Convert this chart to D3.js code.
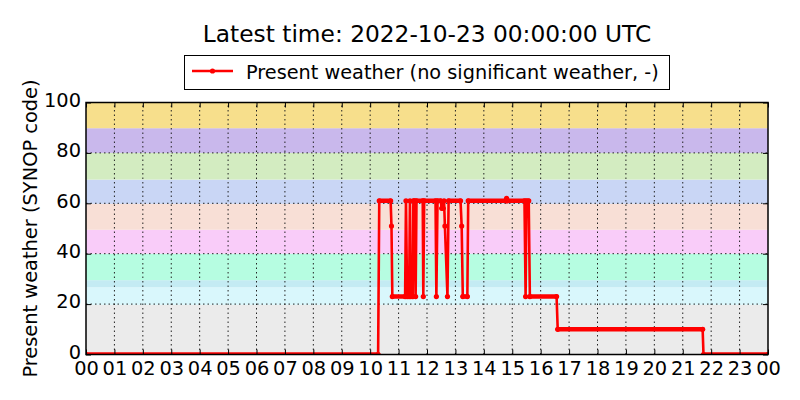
<!DOCTYPE html>
<html>
<head>
<meta charset="utf-8">
<script src="https://cdn.jsdelivr.net/npm/d3@7"></script>
<style>
  body { margin: 0; background: #fff; }
  text { font-family: "DejaVu Sans", sans-serif; fill: #000; }
</style>
</head>
<body>
<div id="chart"></div>
<script>
// observation times (hours after 00 UTC) and present weather code
const times = [0, 10.28, 10.32, 10.72, 10.75, 10.78, 11.23, 11.26, 11.30, 11.37, 11.40, 11.43, 11.50, 11.52,
  11.57, 11.60, 11.63, 11.85, 11.87, 11.90, 12.30, 12.33, 12.37, 12.48, 12.52, 12.57, 12.60, 12.63,
  12.72, 12.76, 13.18, 13.22, 13.26, 13.42, 13.45, 14.78, 14.80, 14.83, 15.43, 15.47, 15.50, 15.58,
  15.62, 16.56, 16.60, 21.70, 21.73, 24];
const codes = [0, 0, 61, 61, 51, 23, 23, 61, 23, 23, 61, 23, 23, 61,
  61, 23, 61, 61, 23, 61, 61, 23, 61, 61, 58, 58, 61, 51,
  23, 61, 61, 51, 23, 23, 61, 61, 62, 61, 61, 23, 61, 61,
  23, 23, 10, 10, 0, 0];

// background bands (SYNOP code groups)
const bandLow = [0, 19.7, 26.7, 29.5, 40, 49.5, 59.8, 69.4, 80, 89.8];
const bandHigh = [19.7, 26.7, 29.5, 40, 49.5, 59.8, 69.4, 80, 89.8, 100];
const bandColors = ['#ebebeb', '#d9f7fc', '#c4ebf3', '#b6fde1', '#f9ccf9', '#f8dfd6',
  '#c9d6f5', '#d3ecc1', '#c9b8ec', '#f7df8c'];

const xTicks = d3.range(0, 25);
const xTickLabels = xTicks.map(function (h) { return d3.format('02d')(h % 24); });
const yTicks = [0, 20, 40, 60, 80, 100];

const titleText = 'Latest time: 2022-10-23 00:00:00 UTC';
const legendText = 'Present weather (no significant weather, -)';
const yLabel = 'Present weather (SYNOP code)';

let width = 800, height = 400;
let margin = { left: 86, right: 32, top: 102.5, bottom: 45.5 };

let svg = d3.select('#chart').append('svg')
  .attr('width', width)
  .attr('height', height);

let x = d3.scaleLinear().domain([0, 24]).range([margin.left, width - margin.right]);
let y = d3.scaleLinear().domain([0, 100]).range([height - margin.bottom, margin.top]);

svg.append('defs').append('clipPath').attr('id', 'plot-clip')
  .append('rect')
  .attr('x', x(0)).attr('y', y(100))
  .attr('width', x(24) - x(0)).attr('height', y(0) - y(100));

svg.selectAll('.band')
  .data(bandColors)
  .enter().append('rect')
  .attr('class', 'band')
  .attr('x', x(0))
  .attr('width', x(24) - x(0))
  .attr('y', function (d, i) { return y(bandHigh[i]); })
  .attr('height', function (d, i) { return y(bandLow[i]) - y(bandHigh[i]); })
  .style('fill', function (d) { return d; });

// dotted grid
let grid = svg.append('g').attr('class', 'grid')
  .style('stroke', '#222').style('stroke-width', 1).style('stroke-dasharray', '1.5,3');
grid.selectAll('.vgrid').data(xTicks.slice(1, -1)).enter().append('line')
  .attr('x1', function (d) { return x(d); }).attr('x2', function (d) { return x(d); })
  .attr('y1', y(0)).attr('y2', y(100));
grid.selectAll('.hgrid').data(yTicks.slice(1, -1)).enter().append('line')
  .attr('y1', function (d) { return y(d); }).attr('y2', function (d) { return y(d); })
  .attr('x1', x(0)).attr('x2', x(24));

// series
let pts = times.map(function (t, i) { return [t, codes[i]]; });
let series = svg.append('g').attr('clip-path', 'url(#plot-clip)');
let flats = [];
for (let i = 1; i < pts.length; i++) {
  if (pts[i][1] == pts[i - 1][1]) flats.push([pts[i - 1], pts[i]]);
}
series.selectAll('.flat').data(flats).enter().append('line')
  .attr('x1', function (d) { return x(d[0][0]); }).attr('x2', function (d) { return x(d[1][0]); })
  .attr('y1', function (d) { return y(d[0][1]); }).attr('y2', function (d) { return y(d[1][1]); })
  .style('stroke', '#ff0000').style('stroke-width', 4.6).style('stroke-linecap', 'round');
series.append('path')
  .datum(pts)
  .attr('d', d3.line().x(function (d) { return x(d[0]); }).y(function (d) { return y(d[1]); }))
  .style('fill', 'none').style('stroke', '#ff0000').style('stroke-width', 2.6)
  .style('stroke-linejoin', 'round');
series.selectAll('.pt').data(pts).enter().append('circle')
  .attr('cx', function (d) { return x(d[0]); })
  .attr('cy', function (d) { return y(d[1]); })
  .attr('r', 2.6)
  .style('fill', '#ff0000');

// axes, ticks inward on all four sides
let axB = svg.append('g').attr('transform', 'translate(0,' + y(0) + ')')
  .call(d3.axisBottom(x).tickValues(xTicks).tickSizeInner(-5).tickSizeOuter(0)
    .tickFormat(function (d, i) { return xTickLabels[i]; }));
let axT = svg.append('g').attr('transform', 'translate(0,' + y(100) + ')')
  .call(d3.axisTop(x).tickValues(xTicks).tickSizeInner(-5).tickSizeOuter(0).tickFormat(''));
let axL = svg.append('g').attr('transform', 'translate(' + x(0) + ',0)')
  .call(d3.axisLeft(y).tickValues(yTicks).tickSizeInner(-5).tickSizeOuter(0));
let axR = svg.append('g').attr('transform', 'translate(' + x(24) + ',0)')
  .call(d3.axisRight(y).tickValues(yTicks).tickSizeInner(-5).tickSizeOuter(0).tickFormat(''));

[axB, axT, axL, axR].forEach(function (a) {
  a.select('.domain').remove();
  a.selectAll('line').style('stroke', '#000').style('stroke-width', 1);
  a.selectAll('text').style('font-size', '19.4px').style('font-family', '"DejaVu Sans", sans-serif').style('fill', '#000');
});
axB.selectAll('text').attr('y', 7).attr('dy', '0.71em');
axL.selectAll('text').attr('x', -5).attr('dy', '0.2em');

svg.append('rect')
  .attr('x', x(0)).attr('y', y(100))
  .attr('width', x(24) - x(0)).attr('height', y(0) - y(100))
  .style('fill', 'none').style('stroke', '#000').style('stroke-width', 1.5);

svg.append('text')
  .attr('x', (x(0) + x(24)) / 2).attr('y', 42)
  .attr('text-anchor', 'middle')
  .style('font-size', '23.3px')
  .text(titleText);

svg.append('text')
  .attr('transform', 'translate(37,' + (y(0) + y(100)) / 2 + ') rotate(-90)')
  .attr('text-anchor', 'middle')
  .style('font-size', '19.4px')
  .text(yLabel);

// legend
let legend = svg.append('g').attr('class', 'legend');
legend.append('rect')
  .attr('x', 184.5).attr('y', 55.5).attr('width', 485).attr('height', 34)
  .style('fill', '#fff').style('stroke', '#000').style('stroke-width', 1);
legend.append('line')
  .attr('x1', 192).attr('x2', 233).attr('y1', 71).attr('y2', 71)
  .style('stroke', '#ff0000').style('stroke-width', 2.6);
legend.append('circle')
  .attr('cx', 212.5).attr('cy', 71).attr('r', 2.6).style('fill', '#ff0000');
legend.append('text')
  .attr('x', 246).attr('y', 78.5)
  .style('font-size', '19.3px')
  .text(legendText);
</script>
</body>
</html>
